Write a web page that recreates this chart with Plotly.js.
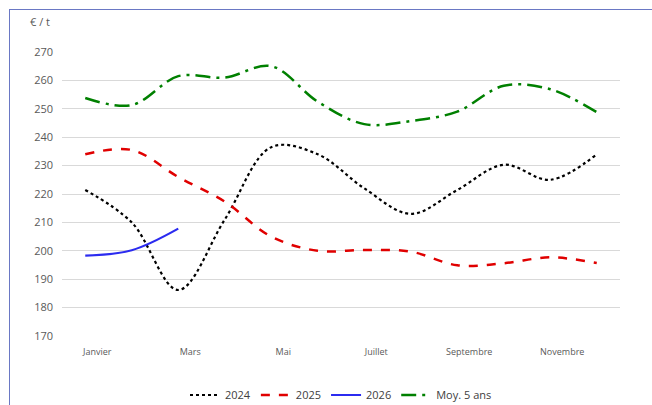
<!DOCTYPE html>
<html><head><meta charset="utf-8">
<script src="https://cdn.plot.ly/plotly-3.0.1.min.js"></script>
<style>
html,body{margin:0;padding:0;background:#fff;}
#wrap{position:relative;width:652px;height:405px;overflow:hidden;}
#frame{position:absolute;left:9px;top:9px;width:700px;height:500px;border-left:1.5px solid #6a78c4;border-top:1.5px solid #6a78c4;pointer-events:none;}
#chart{position:absolute;left:0;top:0;width:652px;height:405px;}
</style></head>
<body><div id="wrap"><div id="chart"></div><div id="frame"></div></div>
<script>
const months = ['Janvier','Février','Mars','Avril','Mai','Juin','Juillet','Août','Septembre','Octobre','Novembre','Décembre'];
const tickMonths = ['Janvier','Mars','Mai','Juillet','Septembre','Novembre'];
const s2024 = [221.4, 210, 186.2, 211, 236.5, 234, 222, 213, 221.4, 230.3, 225, 234];
const s2025 = [234, 235.5, 226, 217.3, 205, 200, 200.3, 199.7, 194.9, 195.6, 197.7, 195.7];
const s2026 = [198.3, 200.2, 207.8];
const sMoy = [253.8, 251.3, 261.5, 261, 265, 252.5, 244.6, 245.7, 249, 258.1, 256.9, 248.8];
const names = ['2024','2025','2026','Moy. 5 ans'];

const traces = [
  {x: months, y: s2024, name: names[0], mode:'lines', line:{color:'#000000', width:2.2, dash:'dot', shape:'spline', smoothing:1}},
  {x: months, y: s2025, name: names[1], mode:'lines', line:{color:'#e00000', width:2.5, dash:'dash', shape:'spline', smoothing:1}},
  {x: months.slice(0, s2026.length), y: s2026, name: names[2], mode:'lines', line:{color:'#2b2bf0', width:2.2, shape:'spline', smoothing:1}},
  {x: months, y: sMoy, name: names[3], mode:'lines', line:{color:'#008000', width:2.5, dash:'longdashdot', shape:'spline', smoothing:1}}
];

const layout = {
  width: 652, height: 405,
  margin: {l:62, r:32, t:52, b:69, autoexpand:false},
  paper_bgcolor:'#ffffff', plot_bgcolor:'#ffffff',
  font: {family:'"Open Sans", sans-serif', color:'#595959', size:11},
  showlegend: true,
  legend: {orientation:'h', x:0.5, xanchor:'center', y:(336-395)/284, yanchor:'middle', font:{size:11, color:'#404040'}, traceorder:'normal'},
  xaxis: {type:'category', range:[-0.5, 11.5], tickmode:'array', tickvals: tickMonths, ticktext: tickMonths,
          showgrid:false, zeroline:false, showline:false, ticks:'', tickfont:{size:9, color:'#595959'}, ticklabelstandoff:9, ticklabelshift:12, fixedrange:true},
  yaxis: {range:[170, 270], dtick:10, tick0:170, showgrid:true, gridcolor:'#d9d9d9', gridwidth:1, zeroline:false, showline:false,
          ticks:'', tickfont:{size:11, color:'#595959'}, ticklabelstandoff:8, fixedrange:true},
  annotations: [{text:'€ / t', xref:'paper', yref:'paper', x:(52-62)/558, xanchor:'right', y:(336-22)/284, yanchor:'middle', showarrow:false, font:{size:11, color:'#595959'}}]
};
Plotly.newPlot('chart', traces, layout, {displayModeBar:false, staticPlot:true});
</script></body></html>
